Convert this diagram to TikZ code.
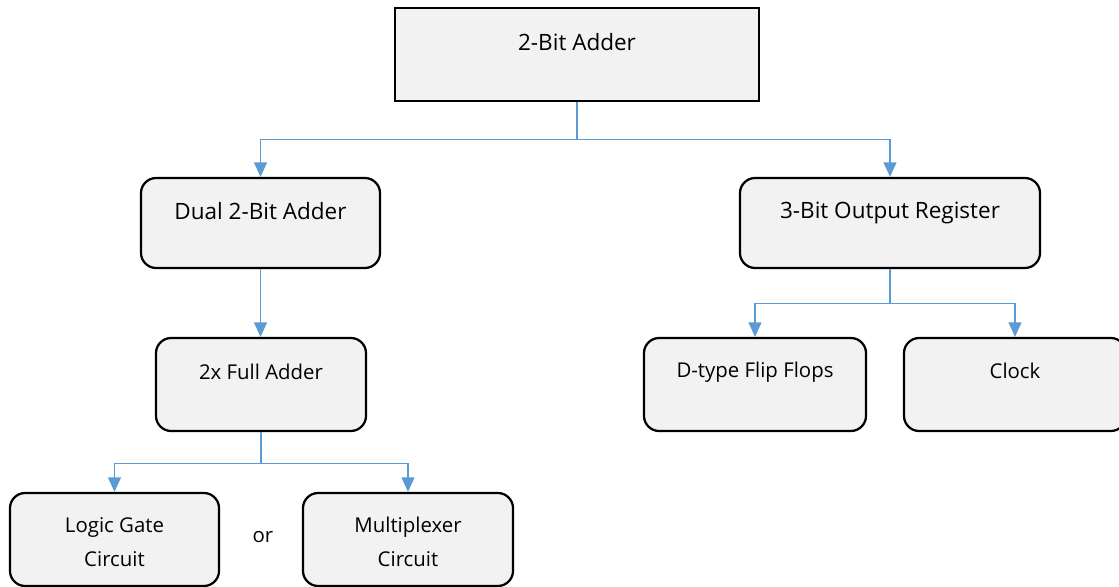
\documentclass[tikz,border=0pt]{standalone}
\usepackage{fontspec}
\setmainfont{Open Sans}
\usepackage{tikz}
\usetikzlibrary{arrows.meta, positioning, calc}
\definecolor{boxfill}{HTML}{F2F2F2}
\definecolor{linkblue}{HTML}{5B9BD5}

\begin{document}
\begin{tikzpicture}[
        x=0.025cm, y=-0.025cm,
        block/.style={rectangle, draw=black, line width=1.6pt, fill=boxfill, minimum height=2.325cm},
        roundblock/.style={block, rounded corners=0.38cm},
        link/.style={-{Triangle[width=0.32cm, length=0.36cm]}, draw=linkblue, line width=0.9pt},
        big/.style={font=\fontsize{16}{19}\selectfont},
        small/.style={font=\fontsize{14.5}{24}\selectfont, align=center}
    ]
        % Rahmen
        \clip (0,0) rectangle (1119,586);
        \fill[white] (0,0) rectangle (1119,586);

        % Bloecke
        \node[block, minimum width=9.1cm, label={[big, anchor=center, yshift=-0.87cm]north:2-Bit Adder}] (top) at (577,54.5) {};
        \node[roundblock, minimum width=5.975cm, minimum height=2.25cm, label={[big, anchor=center, yshift=-0.85cm]north:Dual 2-Bit Adder}] (dual) at (260.5,223) {};
        \node[roundblock, minimum width=7.5cm, minimum height=2.25cm, label={[big, anchor=center, yshift=-0.91cm]north:3-Bit Output Register}] (reg) at (890,223) {};
        \node[roundblock, minimum width=5.25cm, label={[small, anchor=center, yshift=-0.87cm]north:2x Full Adder}] (full) at (261,384.5) {};
        \node[roundblock, minimum width=5.55cm, label={[small, anchor=center, yshift=-0.88cm]north:D-type Flip Flops}] (dff) at (755,384.5) {};
        \node[roundblock, minimum width=5.55cm, label={[small, anchor=center, yshift=-0.84cm]north:Clock}] (clock) at (1015,384.5) {};
        \node[roundblock, minimum width=5.225cm, label={[small, anchor=center, yshift=-1.25cm]north:Logic Gate\\Circuit}] (logic) at (114.5,539.5) {};
        \node[roundblock, minimum width=5.25cm, label={[small, anchor=center, yshift=-1.25cm]north:Multiplexer\\Circuit}] (mux) at (408,539.5) {};
        \node[small] (or) at (263,537) {or};

        % Verbindungen
        \draw[link] (top.south) -- ++(0,37) -| (dual.north);
        \draw[link] (top.south) -- ++(0,37) -| (reg.north);
        \draw[link] (dual.south) -- (dual.south |- full.north);
        \draw[link] (reg.south) -- ++(0,34) -| (dff.north);
        \draw[link] (reg.south) -- ++(0,34) -| (clock.north);
        \draw[link] (full.south) -- ++(0,31) -| (logic.north);
        \draw[link] (full.south) -- ++(0,31) -| (mux.north);
\end{tikzpicture}
\end{document}
